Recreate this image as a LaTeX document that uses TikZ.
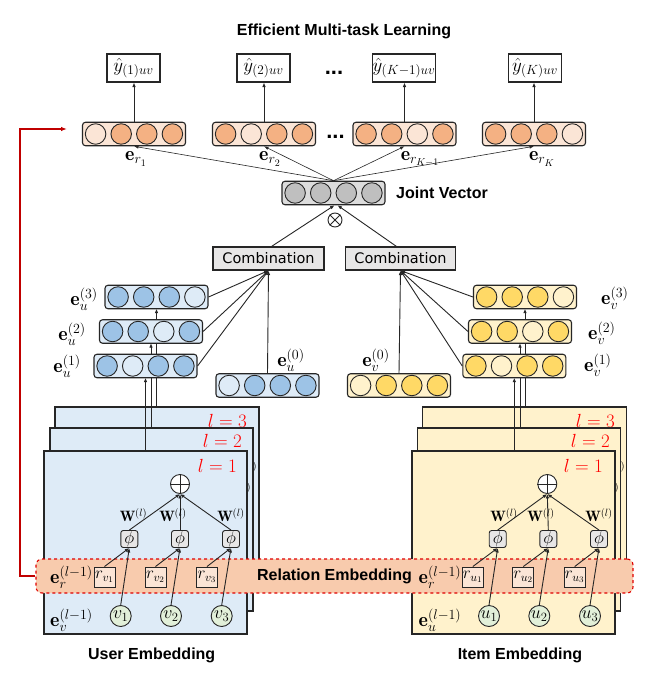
\RequirePackage{fix-cm}
\documentclass[tikz,border=0pt]{standalone}
\usepackage{fontspec}
\newfontfamily\arialf{Liberation Sans}
\newfontfamily\verdf{DejaVu Sans}
\usetikzlibrary{arrows.meta}
\definecolor{bluebg}{HTML}{DEEBF7}
\definecolor{bluedk}{HTML}{9DC3E6}
\definecolor{yelbg}{HTML}{FFF2CC}
\definecolor{yeldk}{HTML}{FFD966}
\definecolor{orbg}{HTML}{FBE5D6}
\definecolor{ordk}{HTML}{F4B183}
\definecolor{grbg}{HTML}{DCDCDC}
\definecolor{grdk}{HTML}{BFBFBF}
\definecolor{combo}{HTML}{E7E6E6}
\definecolor{greenc}{HTML}{E2F0D9}
\definecolor{barfill}{HTML}{F8CBAD}
\definecolor{barred}{HTML}{E00000}
\definecolor{darkred}{HTML}{C00000}
\definecolor{lred}{HTML}{FF0000}
\definecolor{ink}{HTML}{262626}
\tikzset{
  vecbox/.style={draw=ink, line width=1.1pt, rounded corners=3pt, minimum width=103pt, minimum height=23.5pt, inner sep=0pt},
  vcirc/.style={circle, draw=ink, line width=0.9pt, minimum size=20.5pt, inner sep=0pt},
  conn/.style={draw=ink, line width=0.9pt, -{Latex[length=4.5pt,width=3.6pt]}},
  thinconn/.style={draw=ink, line width=0.6pt, -{Latex[length=4.5pt,width=3.4pt]}},
  outbox/.style={draw=ink, line width=1.1pt, minimum width=53pt, minimum height=28pt, inner sep=0pt, font=\fontsize{19}{22}\selectfont},
  combbox/.style={draw=ink, fill=combo, line width=1.1pt, minimum width=111pt, minimum height=23pt, inner sep=0pt, font=\verdf\fontsize{14.5}{17}\selectfont},
  layerL/.style={draw=ink, line width=1.3pt, fill=bluebg, minimum width=203pt, minimum height=183pt, inner sep=0pt},
  layerR/.style={draw=ink, line width=1.3pt, fill=yelbg, minimum width=203pt, minimum height=183pt, inner sep=0pt},
  phibox/.style={draw=ink, fill=combo, rounded corners=2.5pt, line width=0.9pt, minimum size=17pt, inner sep=0pt, font=\fontsize{17}{20}\selectfont},
  rbox/.style={draw=ink, fill=orbg, line width=0.9pt, minimum width=21pt, minimum height=20pt, inner sep=0pt, font=\fontsize{17}{20}\selectfont},
  gcirc/.style={circle, draw=ink, fill=greenc, line width=0.9pt, minimum size=21pt, inner sep=0pt, font=\fontsize{18}{21}\selectfont},
  opcirc/.style={circle, draw=ink, fill=white, line width=0.9pt, minimum size=19pt, inner sep=0pt},
  lab/.style={font=\fontsize{20}{24}\selectfont, inner sep=0pt},
  wlab/.style={font=\fontsize{15}{18}\selectfont, inner sep=0pt},
  llab/.style={text=lred, font=\fontsize{19}{22}\selectfont, inner sep=0pt, anchor=east},
  bsans/.style={font=\arialf\bfseries\fontsize{16}{19}\selectfont, inner sep=0pt},
  relbar/.style={draw=barred, dashed, line width=1.1pt, fill=barfill, rounded corners=6pt, minimum width=597pt, minimum height=34pt, inner sep=0pt, font=\arialf\bfseries\fontsize{16}{19}\selectfont},
  redarrow/.style={draw=darkred, line width=1.3pt, -{Latex[length=6pt,width=4.5pt]}}
}
\newcommand\myvec[8]{%
  \node[vecbox, fill=#4] (#1) at (#2,#3) {};
  \node[vcirc, fill=#5] (#1a) at (#2-38.4,#3) {};
  \node[vcirc, fill=#6] (#1b) at (#2-12.8,#3) {};
  \node[vcirc, fill=#7] (#1c) at (#2+12.8,#3) {};
  \node[vcirc, fill=#8] (#1d) at (#2+38.4,#3) {};
}
\begin{document}
\begin{tikzpicture}[x=1pt,y=-1pt]
\fill[white] (0,0) rectangle (655,692);
\useasboundingbox (0,0) rectangle (655,692);

% ---------- left layer stack ----------
\node[layerL, minimum width=204pt] (L3) at (157,498.5) {};
\node[wlab] (wL3) at (243.5,468) {$\mathbf{W}^{(l)}$};
\node[llab] (lL3) at (247,421) {$l=3$};
\node[layerL] (L2) at (151.5,519.5) {};
\node[wlab] (wL2) at (237.5,489) {$\mathbf{W}^{(l)}$};
\node[llab] (lL2) at (242,441) {$l=2$};
\node[layerL] (L1) at (145.5,542.5) {};
\node[llab] (lL1) at (237,466) {$l=1$};

\node[opcirc] (pL) at (180,484) {};
\draw[ink, line width=0.9pt] (pL.north) -- (pL.south) (pL.west) -- (pL.east);
\node[phibox] (fL1) at (129.3,539) {$\phi$};
\node[phibox] (fL2) at (180,539) {$\phi$};
\node[phibox] (fL3) at (231,539) {$\phi$};
\draw[conn] (fL1.north) -- (pL.south);
\draw[conn] (fL2.north) -- (pL.south);
\draw[conn] (fL3.north) -- (pL.south);
\node[wlab] (wL1a) at (133.5,515) {$\mathbf{W}^{(l)}$};
\node[wlab] (wL1b) at (173,515) {$\mathbf{W}^{(l)}$};
\node[wlab] (wL1c) at (231,515) {$\mathbf{W}^{(l)}$};
\node[lab] (evl) at (71.5,620) {$\mathbf{e}_v^{(l-1)}$};

% ---------- right layer stack ----------
\node[layerR, minimum width=204pt] (R3) at (524.7,498.5) {};
\node[wlab] (wR3) at (611.5,468) {$\mathbf{W}^{(l)}$};
\node[llab] (lR3) at (615,421) {$l=3$};
\node[layerR] (R2) at (519.2,519.5) {};
\node[wlab] (wR2) at (605.5,489) {$\mathbf{W}^{(l)}$};
\node[llab] (lR2) at (610,441) {$l=2$};
\node[layerR] (R1) at (513.6,542.5) {};
\node[llab] (lR1) at (603,466) {$l=1$};

\node[opcirc] (pR) at (547.3,484) {};
\draw[ink, line width=0.9pt] (pR.north) -- (pR.south) (pR.west) -- (pR.east);
\node[phibox] (fR1) at (497.7,539) {$\phi$};
\node[phibox] (fR2) at (548.3,539) {$\phi$};
\node[phibox] (fR3) at (599,539) {$\phi$};
\draw[conn] (fR1.north) -- (pR.south);
\draw[conn] (fR2.north) -- (pR.south);
\draw[conn] (fR3.north) -- (pR.south);
\node[wlab] (wR1a) at (504,515) {$\mathbf{W}^{(l)}$};
\node[wlab] (wR1b) at (541,515) {$\mathbf{W}^{(l)}$};
\node[wlab] (wR1c) at (599,515) {$\mathbf{W}^{(l)}$};
\node[lab] (eul) at (440,620) {$\mathbf{e}_u^{(l-1)}$};

% ---------- vertical lines from layers ----------
\coordinate (ua0) at (145.5,377.7);
\coordinate (ub0) at (151,343.2);
\coordinate (uc0) at (156.5,308.7);
\coordinate (va0) at (514.3,377.7);
\coordinate (vb0) at (520,343.2);
\coordinate (vc0) at (525,308.7);
\draw[conn] (ua0 |- L1.north) -- (ua0);
\draw[conn] (ub0 |- L2.north) -- (ub0);
\draw[conn] (uc0 |- L3.north) -- (uc0);
\draw[conn] (va0 |- R1.north) -- (va0);
\draw[conn] (vb0 |- R2.north) -- (vb0);
\draw[conn] (vc0 |- R3.north) -- (vc0);

% ---------- user / item vectors ----------
\myvec{ua}{145.5}{366}{bluebg}{bluedk}{bluebg}{bluedk}{bluedk}
\myvec{ub}{151}{331.5}{bluebg}{bluedk}{bluedk}{bluebg}{bluedk}
\myvec{uc}{156.5}{297}{bluebg}{bluedk}{bluedk}{bluedk}{bluebg}
\myvec{uz}{267.5}{385.5}{bluebg}{bluebg}{bluedk}{bluedk}{bluedk}
\myvec{va}{514.3}{366}{yelbg}{yeldk}{yelbg}{yeldk}{yeldk}
\myvec{vb}{520}{331.5}{yelbg}{yeldk}{yeldk}{yelbg}{yeldk}
\myvec{vc}{525}{297}{yelbg}{yeldk}{yeldk}{yeldk}{yelbg}
\myvec{vz}{399}{385.5}{yelbg}{yelbg}{yeldk}{yeldk}{yeldk}

\node[lab, anchor=east] (luc) at (98,299) {$\mathbf{e}_u^{(3)}$};
\node[lab, anchor=east] (lub) at (86,334) {$\mathbf{e}_u^{(2)}$};
\node[lab, anchor=east] (lua) at (81,366) {$\mathbf{e}_u^{(1)}$};
\node[lab] (luz) at (291,360) {$\mathbf{e}_u^{(0)}$};
\node[lab, anchor=west] (lvc) at (601,298) {$\mathbf{e}_v^{(3)}$};
\node[lab, anchor=west] (lvb) at (588,333) {$\mathbf{e}_v^{(2)}$};
\node[lab, anchor=west] (lva) at (584,365) {$\mathbf{e}_v^{(1)}$};
\node[lab] (lvz) at (376,360) {$\mathbf{e}_v^{(0)}$};

% ---------- combination ----------
\node[combbox] (cL) at (268.5,258.5) {Combination};
\node[combbox, minimum width=110pt] (cR) at (400.5,258.5) {Combination};
\draw[conn] (uc.east) -- (cL.south);
\draw[conn] (ub.east) -- (cL.south);
\draw[conn] (ua.east) -- (cL.south);
\draw[conn] (uz.north) -- (cL.south);
\draw[conn] (vc.west) -- (cR.south);
\draw[conn] (vb.west) -- (cR.south);
\draw[conn] (va.west) -- (cR.south);
\draw[conn] (vz.north) -- (cR.south);

% ---------- joint vector ----------
\myvec{jv}{333.5}{193}{grbg}{grdk}{grdk}{grdk}{grdk}
\node[bsans, anchor=west] (jvl) at (396,193) {Joint Vector};
\node[circle, draw=ink, fill=white, line width=0.9pt, minimum size=14pt, inner sep=0pt] (ot) at (335,220) {};
\draw[ink, line width=0.9pt] (ot.north east) -- (ot.south west) (ot.north west) -- (ot.south east);
\draw[conn] ([xshift=3pt]cL.north) -- ([xshift=1pt]jv.south);
\draw[conn] ([xshift=-4pt]cR.north) -- ([xshift=4pt]jv.south);

% ---------- task vectors ----------
\myvec{oa}{134}{134}{orbg}{orbg}{ordk}{ordk}{ordk}
\myvec{ob}{264}{134}{orbg}{ordk}{orbg}{ordk}{ordk}
\myvec{oc}{404.5}{134}{orbg}{ordk}{ordk}{orbg}{ordk}
\myvec{od}{534}{134}{orbg}{ordk}{ordk}{ordk}{orbg}
\draw[thinconn] (jv.north) -- (oa.south);
\draw[thinconn] (jv.north) -- (ob.south);
\draw[thinconn] (jv.north) -- (oc.south);
\draw[thinconn] (jv.north) -- (od.south);
\node[lab] (era) at (136,159) {$\mathbf{e}_{r_1}$};
\node[lab] (erb) at (270,159) {$\mathbf{e}_{r_2}$};
\node[lab] (erc) at (420,159) {$\mathbf{e}_{r_{K-1}}$};
\node[lab] (erd) at (542,159) {$\mathbf{e}_{r_K}$};
\node[bsans, font=\arialf\bfseries\fontsize{22}{24}\selectfont] (dots2) at (335.5,137) {...};

\node[outbox] (ya) at (133.5,68) {$\hat{y}_{(1)uv}$};
\node[outbox] (yb) at (263.5,68) {$\hat{y}_{(2)uv}$};
\node[outbox, minimum width=52pt] (yc) at (404,68) {$\hat{y}_{(K-1)uv}$};
\node[outbox] (yd) at (535,68) {$\hat{y}_{(K)uv}$};
\draw[conn] (oa.north) -- (oa.north |- ya.south);
\draw[conn] (ob.north) -- (ob.north |- yb.south);
\draw[conn] (oc.north) -- (oc.north |- yc.south);
\draw[conn] (od.north) -- (od.north |- yd.south);
\node[bsans, font=\arialf\bfseries\fontsize{22}{24}\selectfont] (dots1) at (334,73) {...};
\node[bsans] (title) at (344,31) {Efficient Multi-task Learning};

% ---------- relation embedding ----------
\node[relbar] (bar) at (334.5,576) {Relation Embedding};
\node[lab] (erl) at (71.5,577) {$\mathbf{e}_r^{(l-1)}$};
\node[lab] (err) at (440,577) {$\mathbf{e}_r^{(l-1)}$};

\node[rbox] (rL1) at (104.5,577) {$r_{v_1}$};
\node[rbox] (rL2) at (155.5,577) {$r_{v_2}$};
\node[rbox] (rL3) at (207,577) {$r_{v_3}$};
\node[gcirc] (vL1) at (120.7,616) {$v_1$};
\node[gcirc] (vL2) at (171,616) {$v_2$};
\node[gcirc] (vL3) at (221.7,616) {$v_3$};
\draw[conn] (rL1.north) -- (fL1.south);
\draw[conn] (rL2.north) -- (fL2.south);
\draw[conn] (rL3.north) -- (fL3.south);
\draw[conn] (vL1.north) -- (fL1.south);
\draw[conn] (vL2.north) -- (fL2.south);
\draw[conn] (vL3.north) -- (fL3.south);

\node[rbox] (rR1) at (472.8,577) {$r_{u_1}$};
\node[rbox] (rR2) at (523.3,577) {$r_{u_2}$};
\node[rbox] (rR3) at (574.7,577) {$r_{u_3}$};
\node[gcirc] (uR1) at (489,616) {$u_1$};
\node[gcirc] (uR2) at (539.3,616) {$u_2$};
\node[gcirc] (uR3) at (590,616) {$u_3$};
\draw[conn] (rR1.north) -- (fR1.south);
\draw[conn] (rR2.north) -- (fR2.south);
\draw[conn] (rR3.north) -- (fR3.south);
\draw[conn] (uR1.north) -- (fR1.south);
\draw[conn] (uR2.north) -- (fR2.south);
\draw[conn] (uR3.north) -- (fR3.south);

\node[bsans] (ue) at (151.7,655) {User Embedding};
\node[bsans] (ie) at (520,655) {Item Embedding};

% ---------- red feedback arrow ----------
\coordinate (rk1) at (20,576);
\coordinate (rk2) at (20,129);
\coordinate (rtip) at (67,129);
\draw[redarrow] (bar.west) -- (rk1) -- (rk2) -- (rtip);
\end{tikzpicture}
\end{document}
